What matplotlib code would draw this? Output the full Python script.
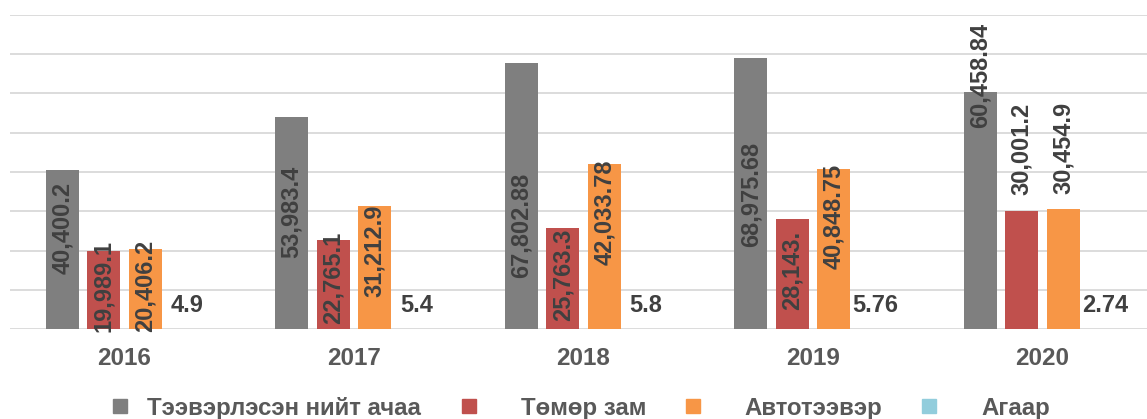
import numpy as np
import matplotlib
matplotlib.use("Agg")
import matplotlib.pyplot as plt
from matplotlib.lines import Line2D

# Data
years = ["2016", "2017", "2018", "2019", "2020"]
series_names = ["Тээвэрлэсэн нийт ачаа", "Төмөр зам", "Автотээвэр", "Агаар"]
total = [40400.2, 53983.4, 67802.88, 68975.68, 60458.84]
rail = [19989.1, 22765.1, 25763.3, 28143.0, 30001.2]
road = [20406.2, 31212.9, 42033.78, 40848.75, 30454.9]
air = [4.9, 5.4, 5.8, 5.76, 2.74]

total_labels = ["40,400.2", "53,983.4", "67,802.88", "68,975.68", "60,458.84"]
rail_labels = ["19,989.1", "22,765.1", "25,763.3", "28,143.", "30,001.2"]
road_labels = ["20,406.2", "31,212.9", "42,033.78", "40,848.75", "30,454.9"]
air_labels = ["4.9", "5.4", "5.8", "5.76", "2.74"]

# where the rotated labels sit (centre height, data units), as placed in the original
total_label_y = [25700, 29800, 26500, 34400, 64500]
rail_label_y = [11000, 13000, 13800, 15000, 45900]
road_label_y = [11000, 19900, 29800, 28800, 46100]
air_label_y = 5900

colors = ["#7f7f7f", "#c0504d", "#f79646", "#92cddc"]
label_color = "#404040"
text_color = "#595959"

plt.rcParams['font.family'] = ['Liberation Sans', 'DejaVu Sans']

fig = plt.figure(figsize=(11.47, 4.19), dpi=100)
ax = fig.add_axes([10 / 1147, 90 / 419, 1137 / 1147, 314 / 419])

x = np.arange(len(years))
step = 0.181
width = 0.144
values = [total, rail, road, air]
offsets = [-1.5 * step, -0.5 * step, 0.5 * step, 1.5 * step]

for vals, off, col in zip(values, offsets, colors):
    ax.bar(x + off, vals, width, color=col, zorder=3)

rot_sets = [(total_labels, total_label_y, offsets[0]),
            (rail_labels, rail_label_y, offsets[1]),
            (road_labels, road_label_y, offsets[2])]
for labels, ys, off in rot_sets:
    for i, (lab, yy) in enumerate(zip(labels, ys)):
        ax.text(x[i] + off, yy, lab, rotation=90, ha="center", va="center",
                fontsize=17, fontweight="bold", color=label_color, zorder=4)

for i, lab in enumerate(air_labels):
    ax.text(x[i] + offsets[3], air_label_y, lab, ha="center", va="center",
            fontsize=17, fontweight="bold", color=label_color, zorder=4)

ax.set_ylim(0, 80000)
ax.set_xlim(-0.499, 4.455)
ax.set_yticks(np.arange(0, 80001, 10000))
ax.yaxis.grid(True, color="#d9d9d9", linewidth=1.3, zorder=0)
ax.tick_params(axis="y", left=False, labelleft=False)
ax.tick_params(axis="x", length=0, pad=13)
ax.set_xticks(x)
ax.set_xticklabels(years, fontsize=17.5, fontweight="bold", color=text_color)
for s in ax.spines.values():
    s.set_visible(False)

handles = [Line2D([], [], marker="s", linestyle="none", markersize=9.5,
                  markerfacecolor=c, markeredgecolor=c) for c in colors]
prop = {"weight": "bold", "size": 17.3}
# first entry sits closer to its marker than the others, so two legends
leg1 = fig.legend(handles[:1], series_names[:1], loc="center left",
                  bbox_to_anchor=(113 / 1147, 11 / 419), frameon=False, prop=prop,
                  handlelength=0.57, handletextpad=0.84, borderpad=0, borderaxespad=0)
leg2 = fig.legend(handles[1:], series_names[1:], loc="center left",
                  bbox_to_anchor=(462 / 1147, 11 / 419), ncol=3, frameon=False, prop=prop,
                  handlelength=0.57, handletextpad=1.88, columnspacing=1.65,
                  borderpad=0, borderaxespad=0)
for leg in (leg1, leg2):
    for t in leg.get_texts():
        t.set_color(text_color)

fig.savefig("out.png", dpi=100)
